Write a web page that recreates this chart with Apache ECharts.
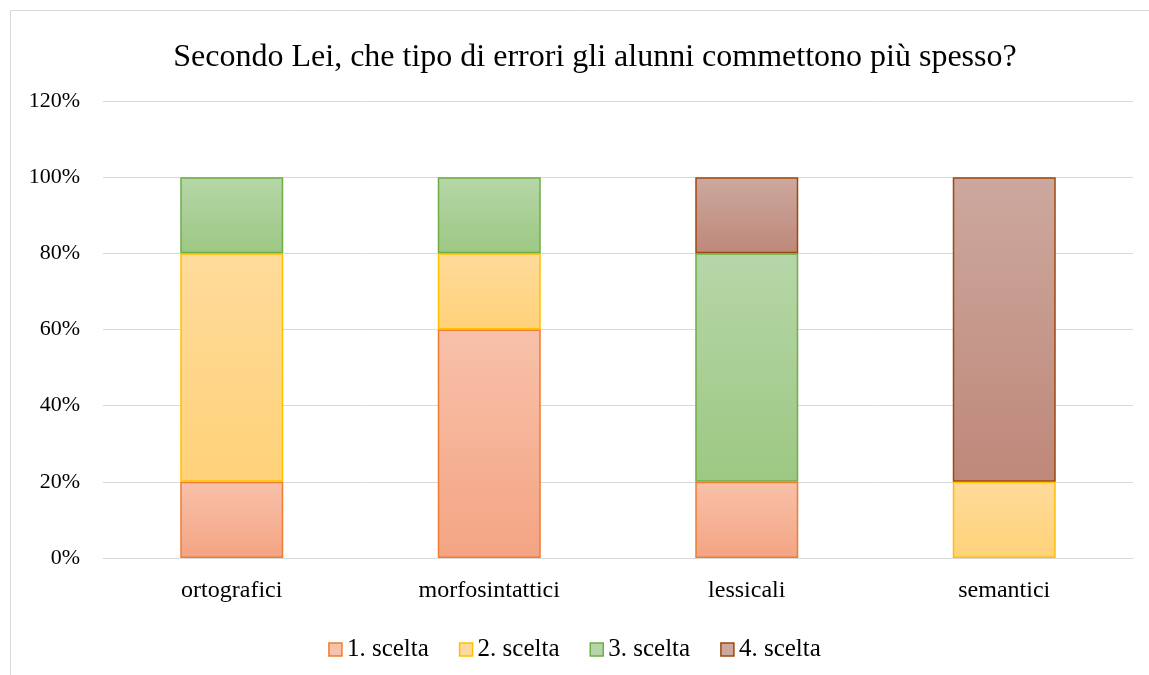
<!DOCTYPE html>
<html><head><meta charset="utf-8">
<script src="https://cdn.jsdelivr.net/npm/echarts@6/dist/echarts.min.js"></script>
<style>html,body{margin:0;padding:0;background:#fff}#c{width:1149px;height:675px}</style>
</head><body><div id="c"></div>
<script>
const categories = ['ortografici', 'morfosintattici', 'lessicali', 'semantici'];
const seriesNames = ['1. scelta', '2. scelta', '3. scelta', '4. scelta'];
const scelta1 = [20, 60, 20, 0];
const scelta2 = [60, 20, 0, 20];
const scelta3 = [20, 20, 60, 0];
const scelta4 = [0, 0, 20, 80];
const yTicks = [0, 20, 40, 60, 80, 100, 120];

const styles = [
  {top: '#F8C1AA', bottom: '#F4A483', border: '#ED7D31'},
  {top: '#FFDB9B', bottom: '#FFD279', border: '#FFC000'},
  {top: '#B6D6A8', bottom: '#9DC883', border: '#70AD47'},
  {top: '#CDA89E', bottom: '#BE887A', border: '#9E480E'}
];
const values = [scelta1, scelta2, scelta3, scelta4];
const font = '"Liberation Serif", "Times New Roman", serif';

const series = values.map((vals, i) => ({
  name: seriesNames[i],
  type: 'bar',
  stack: 'total',
  barWidth: '40%',
  data: vals.map(v => v === 0 ? '-' : v),
  itemStyle: {
    color: new echarts.graphic.LinearGradient(0, 0, 0, 1, [
      {offset: 0, color: styles[i].top}, {offset: 1, color: styles[i].bottom}]),
    borderColor: styles[i].border,
    borderWidth: 1.5
  }
}));

const chart = echarts.init(document.getElementById('c'), null, {renderer: 'canvas'});
chart.setOption({
  animation: false,
  textStyle: {fontFamily: font},
  title: {
    text: 'Secondo Lei, che tipo di errori gli alunni commettono più spesso?',
    left: 590, top: 37, textAlign: 'center',
    textStyle: {fontFamily: font, fontSize: 32, fontWeight: 'normal', color: '#000'}
  },
  legend: {
    data: seriesNames.map((n, i) => ({name: n, itemStyle: {color: styles[i].top, borderColor: styles[i].border, borderWidth: 1.5}})),
    left: 'center', top: 632, icon: 'rect', itemWidth: 13, itemHeight: 13, itemGap: 30,
    textStyle: {fontFamily: font, fontSize: 25, color: '#000'}
  },
  grid: {left: 103, right: 16, top: 101, bottom: 117, containLabel: false},
  xAxis: {
    type: 'category', data: categories,
    axisLine: {lineStyle: {color: '#D9D9D9', width: 1}},
    axisTick: {show: false},
    axisLabel: {fontFamily: font, fontSize: 24, color: '#000', margin: 21}
  },
  yAxis: {
    type: 'value', min: 0, max: 120, interval: 20,
    axisLine: {show: false}, axisTick: {show: false},
    splitLine: {lineStyle: {color: '#D9D9D9', width: 1}},
    axisLabel: {fontFamily: font, fontSize: 22, color: '#000', margin: 23,
      formatter: v => yTicks.includes(v) ? v + '%' : ''}
  },
  graphic: [{
    type: 'rect', shape: {x: 10.5, y: 10.5, width: 1160, height: 700},
    style: {fill: 'none', stroke: '#D9D9D9', lineWidth: 1}, silent: true
  }],
  series: series
});
</script></body></html>
